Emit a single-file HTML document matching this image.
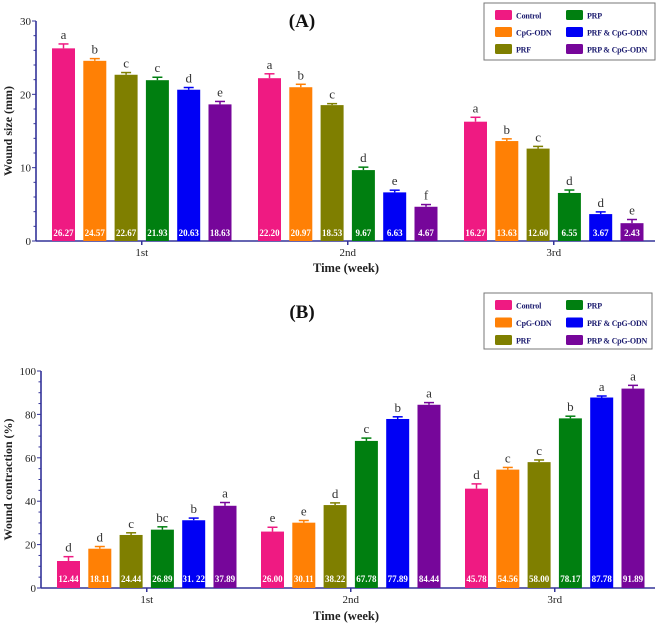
<!DOCTYPE html>
<html><head><meta charset="utf-8">
<style>
html,body{margin:0;padding:0;background:#fff;}
svg{display:block;font-family:"Liberation Serif",serif;}
</style></head>
<body>
<svg id="fig" width="669" height="626" viewBox="0 0 669 626" xmlns="http://www.w3.org/2000/svg"></svg>
<script>
const groups = ["1st","2nd","3rd"];
const seriesNames = ["Control","CpG-ODN","PRF","PRP","PRF & CpG-ODN","PRP & CpG-ODN"];
const colors = ["#ef1a82","#ff8005","#7f7f00","#007f10","#0000f5","#76069a"];
// Chart A: wound size (mm)
const aValues = [[26.27,24.57,22.67,21.93,20.63,18.63],[22.20,20.97,18.53,9.67,6.63,4.67],[16.27,13.63,12.60,6.55,3.67,2.43]];
const aLabels = [["26.27","24.57","22.67","21.93","20.63","18.63"],["22.20","20.97","18.53","9.67","6.63","4.67"],["16.27","13.63","12.60","6.55","3.67","2.43"]];
const aErr = [[0.6,0.3,0.3,0.4,0.3,0.4],[0.6,0.4,0.2,0.4,0.3,0.3],[0.6,0.3,0.3,0.4,0.3,0.5]];
const aLetters = [["a","b","c","c","d","e"],["a","b","c","d","e","f"],["a","b","c","d","d","e"]];
const aTicks = [0,10,20,30];
// Chart B: wound contraction (%)
const bValues = [[12.44,18.11,24.44,26.89,31.22,37.89],[26.00,30.11,38.22,67.78,77.89,84.44],[45.78,54.56,58.00,78.17,87.78,91.89]];
const bLabels = [["12.44","18.11","24.44","26.89","31. 22","37.89"],["26.00","30.11","38.22","67.78","77.89","84.44"],["45.78","54.56","58.00","78.17","87.78","91.89"]];
const bErr = [[2.0,1.0,1.0,1.3,1.0,1.5],[2.0,1.0,1.0,1.3,1.0,1.0],[2.2,1.0,1.0,1.0,0.7,1.5]];
const bLetters = [["d","d","c","bc","b","a"],["e","e","d","c","b","a"],["d","c","c","b","a","a"]];
const bTicks = [0,20,40,60,80,100];

const NS="http://www.w3.org/2000/svg";
const svg=document.getElementById('fig');
function el(tag,attrs,parent){const e=document.createElementNS(NS,tag);for(const k in attrs)e.setAttribute(k,attrs[k]);(parent||svg).appendChild(e);return e;}
function txt(s,attrs,parent){const e=el('text',attrs,parent);e.textContent=s;return e;}

function chart(cfg){
  const g=el('g',{});
  
  
  const y=v=>cfg.y0-(v/cfg.max)*(cfg.y0-cfg.yTop);
  const x=(gi,si)=>cfg.groupX[gi]+si*cfg.pitch;
  const ya=el('line',{x1:cfg.ax,y1:cfg.yTop,x2:cfg.ax,y2:cfg.y0,stroke:"#333399","stroke-width":1.6},g);
  
  const xa=el('line',{x1:cfg.ax,y1:cfg.y0,x2:655,y2:cfg.y0,stroke:"#333399","stroke-width":1.6},g);
  
  for(let v=0;v<=cfg.max;v+=cfg.minor){
    const major=cfg.ticks.includes(v);
    el('line',{x1:cfg.ax-(major?4:2.5),x2:cfg.ax,y1:y(v),y2:y(v),stroke:"#333399","stroke-width":1},g);
  }
  cfg.ticks.forEach(t=>{
    const tl=txt(String(t),{x:cfg.ax-5,y:y(t)+4,"text-anchor":"end","font-size":11,fill:"#222"},g);
    
  });
  const yt=txt(cfg.ytitle,{x:0,y:0,"font-size":12,"font-weight":"bold",fill:"#222","text-anchor":"middle",transform:`translate(${cfg.ytx},${(cfg.y0+cfg.yTop)/2}) rotate(-90)`},g);
  
  groups.forEach((gn,gi)=>{
    const cx=x(gi,0)+(5*cfg.pitch+cfg.bw)/2;
    el('line',{x1:cx,x2:cx,y1:cfg.y0,y2:cfg.y0+4,stroke:"#333399","stroke-width":1.5},g);
    const gl=txt(gn,{x:cx,y:cfg.y0+15,"text-anchor":"middle","font-size":11,fill:"#222"},g);
    
    cfg.values[gi].forEach((v,si)=>{
      const bx=x(gi,si);
      const r=el('rect',{x:bx,y:y(v),width:cfg.bw,height:cfg.y0-y(v),fill:colors[si]},g);
      
      const top=y(v+cfg.err[gi][si]);
      const cx2=bx+cfg.bw/2;
      el('line',{x1:cx2,x2:cx2,y1:top,y2:y(v),stroke:colors[si],"stroke-width":1.5},g);
      el('line',{x1:cx2-5,x2:cx2+5,y1:top,y2:top,stroke:colors[si],"stroke-width":1.5},g);
      const lt=txt(cfg.letters[gi][si],{x:cx2,y:top-5,"text-anchor":"middle","font-size":13,fill:"#333"},g);
      
      const vl=txt(cfg.labels[gi][si],{x:cx2,y:cfg.valY,"text-anchor":"middle","font-size":9,"font-weight":"bold",fill:"#fff"},g);
      
    });
  });
  const xt=txt("Time (week)",{x:346,y:cfg.xtY,"text-anchor":"middle","font-size":12.5,"font-weight":"bold",fill:"#222"},g);
  
  const tt=txt(cfg.title,{x:302,y:cfg.titleY,"text-anchor":"middle","font-size":19,"font-weight":"bold",fill:"#111"},g);
  
  const lg=el('g',{},g);
  
  el('rect',{x:cfg.lx,y:cfg.ly,width:cfg.lw,height:cfg.lh,fill:"#fff",stroke:"#777","stroke-width":1},lg);
  seriesNames.forEach((n,i)=>{
    const col=i<3?0:1,row=i%3;
    const sx=cfg.lx+(col?82:11), sy=cfg.ly+7+row*cfg.lrow;
    const it=el('g',{},lg);
    
    el('rect',{x:sx,y:sy,width:17,height:10,rx:1.5,fill:colors[i]},it);
    txt(n,{x:sx+21,y:sy+8.5,"font-size":8,"font-weight":"bold",fill:"#1a1a6e","letter-spacing":"-0.2"},it);
  });
}

chart({name:"chart-a-wound-size",title:"(A)",titleY:27,ytitle:"Wound size (mm)",ytx:12,ax:36,y0:241,yTop:21,max:30,minor:2,ticks:aTicks,
  values:aValues,labels:aLabels,err:aErr,letters:aLetters,groupX:[52,258,464],pitch:31.3,bw:23,valY:236,xtY:272,
  lx:484,ly:3,lw:171,lh:57,lrow:17});
chart({name:"chart-b-wound-contraction",title:"(B)",titleY:318,ytitle:"Wound contraction (%)",ytx:12,ax:41,y0:588,yTop:371,max:100,minor:5,ticks:bTicks,
  values:bValues,labels:bLabels,err:bErr,letters:bLetters,groupX:[57,261,465],pitch:31.3,bw:23,valY:582,xtY:620,
  lx:484,ly:293,lw:168,lh:56,lrow:17.5});
</script>
</body></html>
